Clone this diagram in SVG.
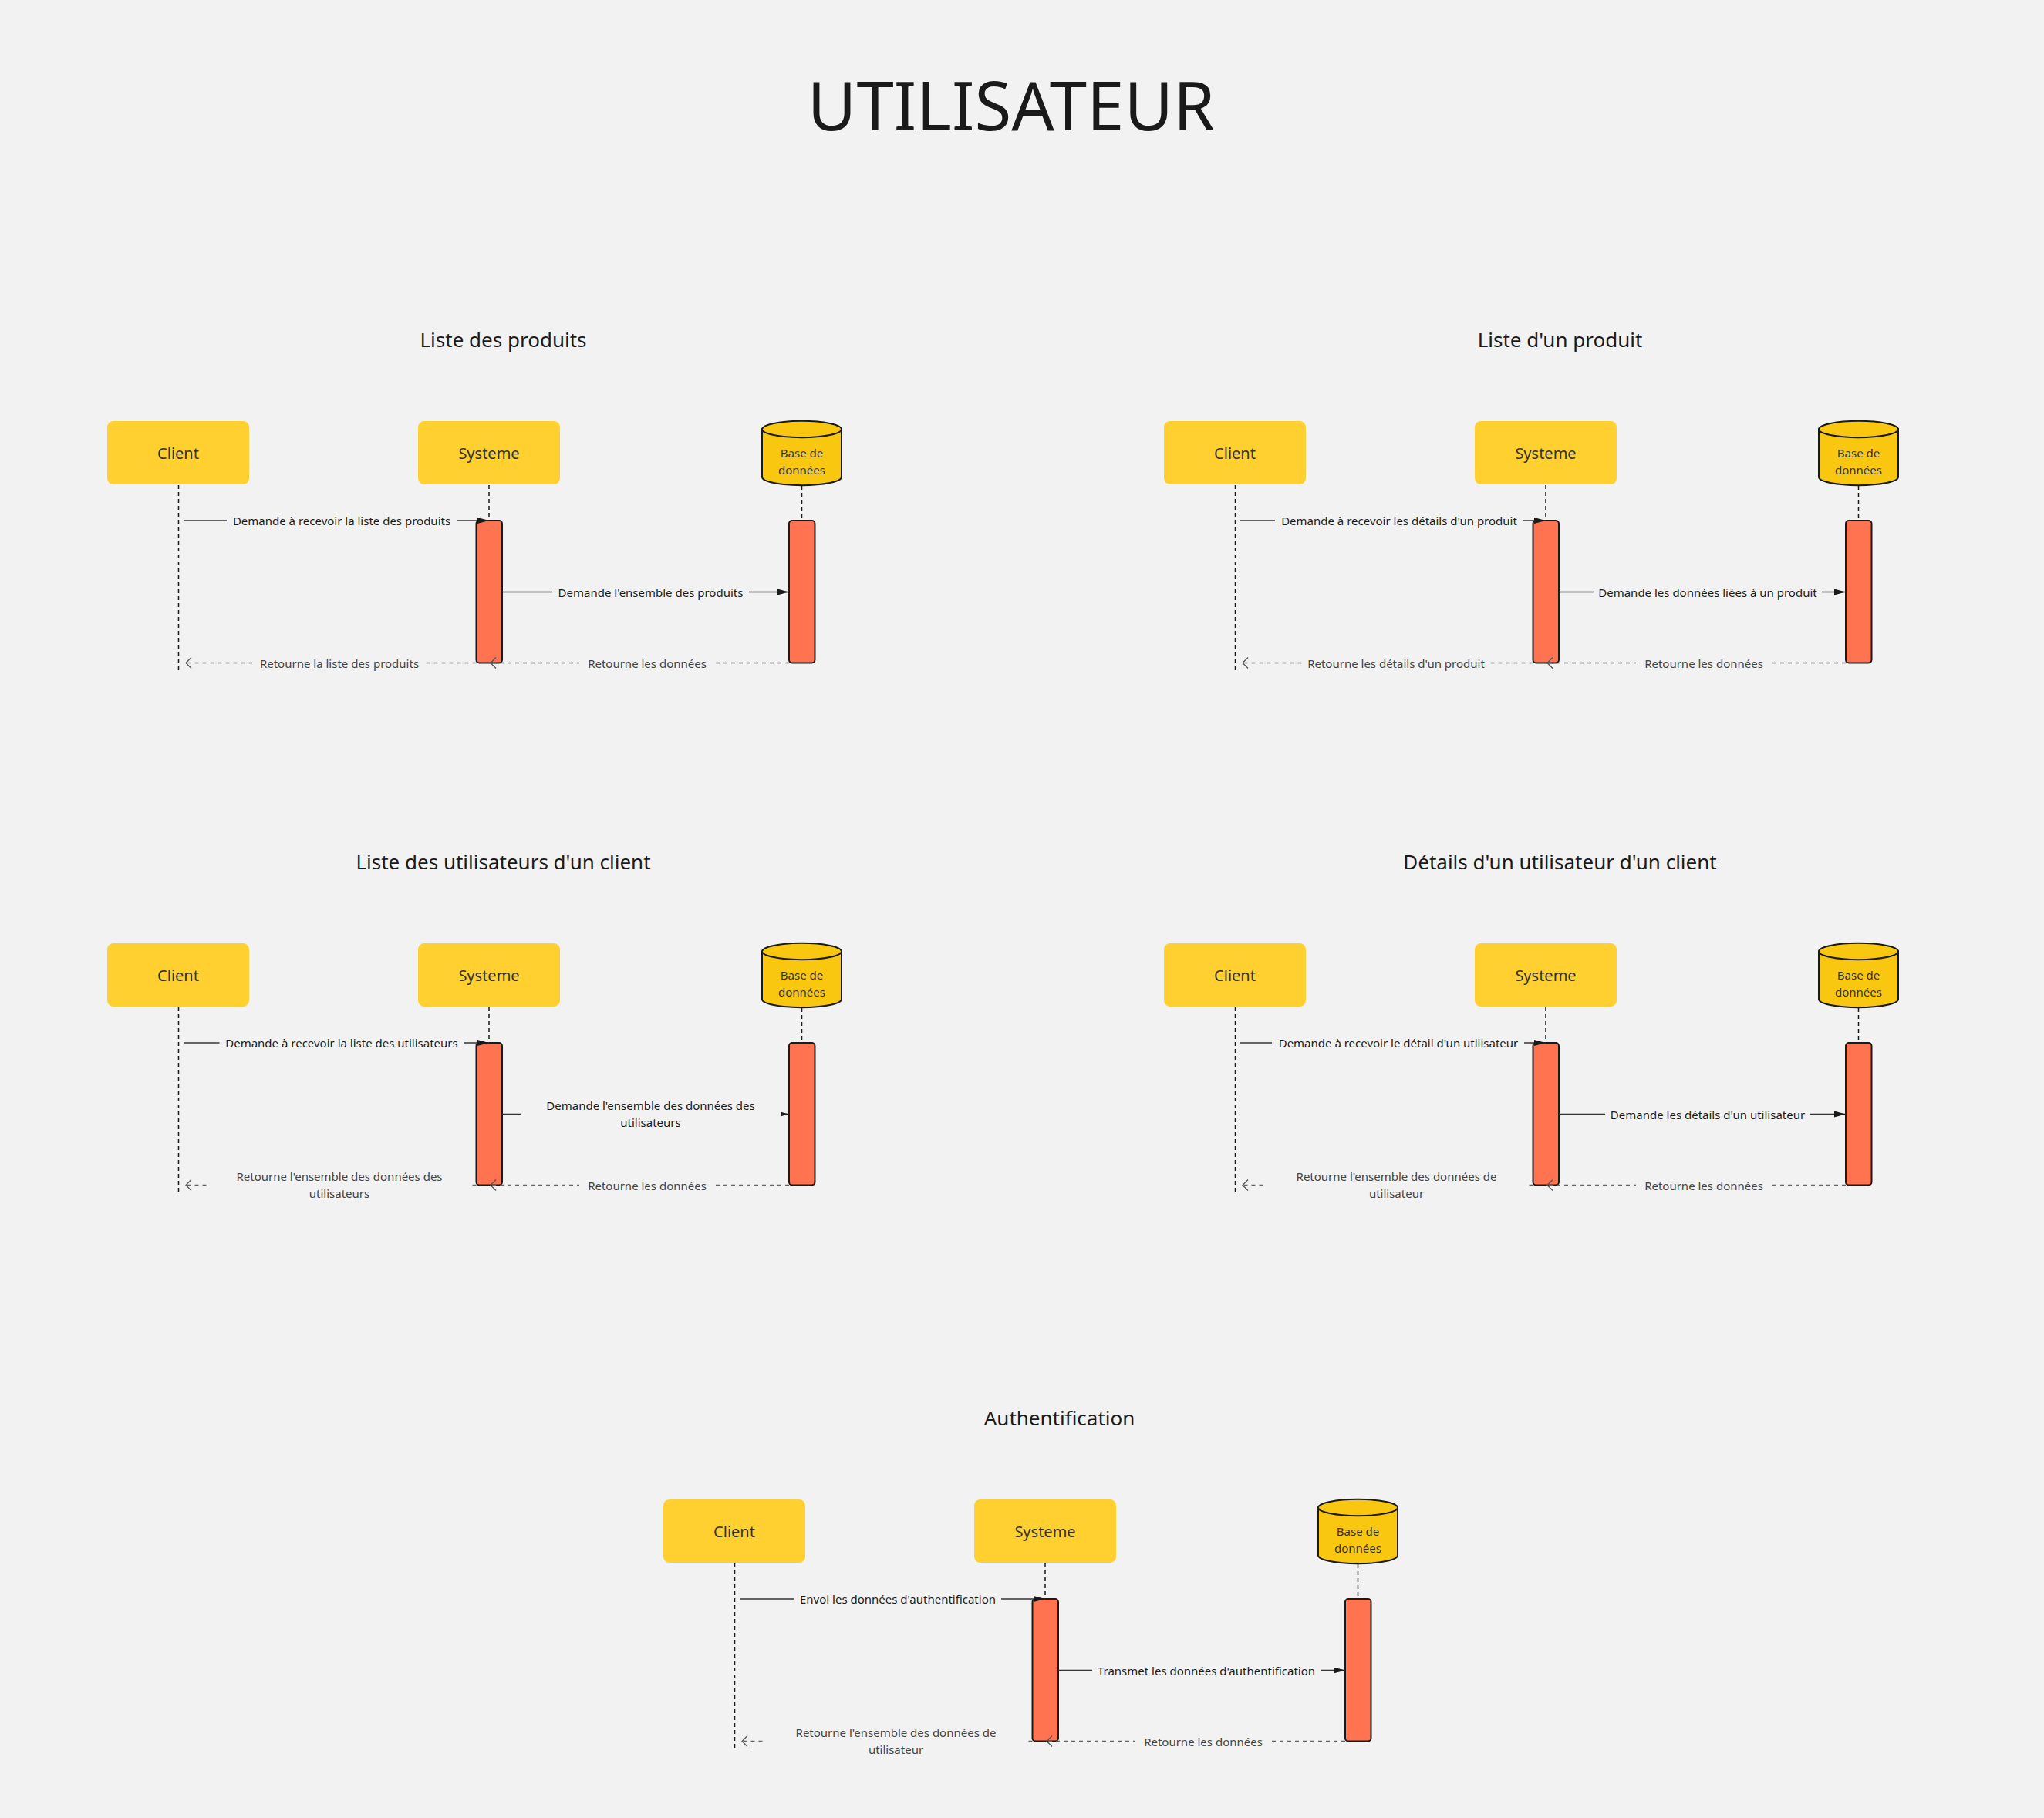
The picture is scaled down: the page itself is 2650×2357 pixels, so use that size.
<svg xmlns="http://www.w3.org/2000/svg" width="2650" height="2357" viewBox="0 0 2650 2357">
<defs>
<style>
text{font-family:"Noto Sans","Open Sans","DejaVu Sans",sans-serif;text-anchor:middle}
.main{font-size:87px;fill:#1a1a1a}
.ptitle{font-size:26px;fill:#1a1a1a}
.box{fill:#ffd02f}
.lbl{font-size:20px;fill:#333333}
.db{fill:#fac710;stroke:#1a1a1a;stroke-width:2}
.dbl{font-size:15px;fill:#333333}
.bar{fill:#ff7350;stroke:#1a1a1a;stroke-width:2}
.life{stroke:#1a1a1a;stroke-width:1.5;stroke-dasharray:5 4;fill:none}
.msg{stroke:#333333;stroke-width:1.5;fill:none;marker-end:url(#arrFill)}
.ret{stroke:#666666;stroke-width:1.3;stroke-dasharray:5 5;fill:none;marker-end:url(#arrOpen)}
.lbg{fill:#f2f2f2}
.mt{font-size:15px;fill:#1a1a1a}
.rt{font-size:15px;fill:#444444}
</style>
<marker id="arrFill" viewBox="0 0 15 8" refX="15" refY="4" markerWidth="15" markerHeight="8" markerUnits="userSpaceOnUse" orient="auto">
<path d="M0,0 L15,4 L0,8 Z" fill="#1a1a1a"/>
</marker>
<marker id="arrOpen" viewBox="-1 -1 10 16" refX="7" refY="7" markerWidth="10" markerHeight="16" markerUnits="userSpaceOnUse" orient="auto">
<path d="M0,0 L7,7 L0,14" fill="none" stroke="#555555" stroke-width="1.3"/>
</marker>
</defs>
<rect x="0" y="0" width="2650" height="2357" fill="#f2f2f2"/>
<text class="main" x="1311" y="169">UTILISATEUR</text>

<!-- Panel 1 -->
<g id="panel-liste-produits">
<text class="ptitle" x="652.5" y="450">Liste des produits</text>
<g id="p1-client"><rect class="box" x="139" y="546" width="184" height="82" rx="8"/><text class="lbl" x="231" y="595">Client</text><line class="life" x1="231.5" y1="629" x2="231.5" y2="870"/></g>
<g id="p1-systeme"><rect class="box" x="542" y="546" width="184" height="82" rx="8"/><text class="lbl" x="634" y="595">Systeme</text><line class="life" x1="634" y1="629" x2="634" y2="675"/><rect class="bar" x="617.5" y="675" width="33.5" height="184.5" rx="4"/></g>
<g id="p1-db"><path class="db" d="M988,556.5 V618.5 A51.5,10.7 0 0 0 1091,618.5 V556.5 Z"/><ellipse class="db" cx="1039.5" cy="556.5" rx="51.5" ry="10.7"/><text class="dbl" x="1039.5" y="593">Base de</text><text class="dbl" x="1039.5" y="615">données</text><line class="life" x1="1039.5" y1="630" x2="1039.5" y2="675"/><rect class="bar" x="1023" y="675" width="33.5" height="184.5" rx="4"/></g>
<g id="p1-connectors">
<line class="msg" x1="238" y1="675" x2="634" y2="675"/>
<line class="msg" x1="651" y1="767.5" x2="1023" y2="767.5"/>
<line class="ret" x1="1023" y1="859.5" x2="636" y2="859.5"/>
<line class="ret" x1="617.5" y1="859.5" x2="241" y2="859.5"/>
<rect class="lbg" x="294" y="663" width="298" height="24"/><text class="mt" x="443" y="681">Demande à recevoir la liste des produits</text>
<rect class="lbg" x="716" y="755.5" width="255" height="24"/><text class="mt" x="843.5" y="773.5">Demande l'ensemble des produits</text>
<rect class="lbg" x="751" y="847.5" width="176" height="24"/><text class="rt" x="839" y="865.5">Retourne les données</text>
<rect class="lbg" x="327" y="847.5" width="223" height="24"/><text class="rt" x="440" y="865.5">Retourne la liste des produits</text>
</g>
</g>

<!-- Panel 2 -->
<g id="panel-liste-produit" transform="translate(1370,0)">
<text class="ptitle" x="652.5" y="450">Liste d'un produit</text>
<g id="p2-client"><rect class="box" x="139" y="546" width="184" height="82" rx="8"/><text class="lbl" x="231" y="595">Client</text><line class="life" x1="231.5" y1="629" x2="231.5" y2="870"/></g>
<g id="p2-systeme"><rect class="box" x="542" y="546" width="184" height="82" rx="8"/><text class="lbl" x="634" y="595">Systeme</text><line class="life" x1="634" y1="629" x2="634" y2="675"/><rect class="bar" x="617.5" y="675" width="33.5" height="184.5" rx="4"/></g>
<g id="p2-db"><path class="db" d="M988,556.5 V618.5 A51.5,10.7 0 0 0 1091,618.5 V556.5 Z"/><ellipse class="db" cx="1039.5" cy="556.5" rx="51.5" ry="10.7"/><text class="dbl" x="1039.5" y="593">Base de</text><text class="dbl" x="1039.5" y="615">données</text><line class="life" x1="1039.5" y1="630" x2="1039.5" y2="675"/><rect class="bar" x="1023" y="675" width="33.5" height="184.5" rx="4"/></g>
<g id="p2-connectors">
<line class="msg" x1="238" y1="675" x2="634" y2="675"/>
<line class="msg" x1="651" y1="767.5" x2="1023" y2="767.5"/>
<line class="ret" x1="1023" y1="859.5" x2="636" y2="859.5"/>
<line class="ret" x1="617.5" y1="859.5" x2="241" y2="859.5"/>
<rect class="lbg" x="283" y="663" width="322" height="24"/><text class="mt" x="444" y="681">Demande à recevoir les détails d'un produit</text>
<rect class="lbg" x="696" y="755.5" width="296" height="24"/><text class="mt" x="844" y="773.5">Demande les données liées à un produit</text>
<rect class="lbg" x="751" y="847.5" width="176" height="24"/><text class="rt" x="839" y="865.5">Retourne les données</text>
<rect class="lbg" x="318" y="847.5" width="243" height="24"/><text class="rt" x="440" y="865.5">Retourne les détails d'un produit</text>
</g>
</g>

<!-- Panel 3 -->
<g id="panel-liste-utilisateurs" transform="translate(0,677)">
<text class="ptitle" x="652.5" y="450">Liste des utilisateurs d'un client</text>
<g id="p3-client"><rect class="box" x="139" y="546" width="184" height="82" rx="8"/><text class="lbl" x="231" y="595">Client</text><line class="life" x1="231.5" y1="629" x2="231.5" y2="870"/></g>
<g id="p3-systeme"><rect class="box" x="542" y="546" width="184" height="82" rx="8"/><text class="lbl" x="634" y="595">Systeme</text><line class="life" x1="634" y1="629" x2="634" y2="675"/><rect class="bar" x="617.5" y="675" width="33.5" height="184.5" rx="4"/></g>
<g id="p3-db"><path class="db" d="M988,556.5 V618.5 A51.5,10.7 0 0 0 1091,618.5 V556.5 Z"/><ellipse class="db" cx="1039.5" cy="556.5" rx="51.5" ry="10.7"/><text class="dbl" x="1039.5" y="593">Base de</text><text class="dbl" x="1039.5" y="615">données</text><line class="life" x1="1039.5" y1="630" x2="1039.5" y2="675"/><rect class="bar" x="1023" y="675" width="33.5" height="184.5" rx="4"/></g>
<g id="p3-connectors">
<line class="msg" x1="238" y1="675" x2="634" y2="675"/>
<line class="msg" x1="651" y1="767.5" x2="1023" y2="767.5"/>
<line class="ret" x1="1023" y1="859.5" x2="636" y2="859.5"/>
<line class="ret" x1="617.5" y1="859.5" x2="241" y2="859.5"/>
<rect class="lbg" x="284.5" y="663" width="317" height="24"/><text class="mt" x="443" y="681">Demande à recevoir la liste des utilisateurs</text>
<rect class="lbg" x="675" y="755.5" width="337" height="24"/><text class="mt" x="843.5" y="762">Demande l'ensemble des données des</text><text class="mt" x="843.5" y="784">utilisateurs</text>
<rect class="lbg" x="751" y="847.5" width="176" height="24"/><text class="rt" x="839" y="865.5">Retourne les données</text>
<rect class="lbg" x="268" y="847.5" width="341" height="24"/><text class="rt" x="440" y="854">Retourne l'ensemble des données des</text><text class="rt" x="440" y="876">utilisateurs</text>
</g>
</g>

<!-- Panel 4 -->
<g id="panel-details-utilisateur" transform="translate(1370,677)">
<text class="ptitle" x="652.5" y="450">Détails d'un utilisateur d'un client</text>
<g id="p4-client"><rect class="box" x="139" y="546" width="184" height="82" rx="8"/><text class="lbl" x="231" y="595">Client</text><line class="life" x1="231.5" y1="629" x2="231.5" y2="870"/></g>
<g id="p4-systeme"><rect class="box" x="542" y="546" width="184" height="82" rx="8"/><text class="lbl" x="634" y="595">Systeme</text><line class="life" x1="634" y1="629" x2="634" y2="675"/><rect class="bar" x="617.5" y="675" width="33.5" height="184.5" rx="4"/></g>
<g id="p4-db"><path class="db" d="M988,556.5 V618.5 A51.5,10.7 0 0 0 1091,618.5 V556.5 Z"/><ellipse class="db" cx="1039.5" cy="556.5" rx="51.5" ry="10.7"/><text class="dbl" x="1039.5" y="593">Base de</text><text class="dbl" x="1039.5" y="615">données</text><line class="life" x1="1039.5" y1="630" x2="1039.5" y2="675"/><rect class="bar" x="1023" y="675" width="33.5" height="184.5" rx="4"/></g>
<g id="p4-connectors">
<line class="msg" x1="238" y1="675" x2="634" y2="675"/>
<line class="msg" x1="651" y1="767.5" x2="1023" y2="767.5"/>
<line class="ret" x1="1023" y1="859.5" x2="636" y2="859.5"/>
<line class="ret" x1="617.5" y1="859.5" x2="241" y2="859.5"/>
<rect class="lbg" x="279" y="663" width="327" height="24"/><text class="mt" x="443" y="681">Demande à recevoir le détail d'un utilisateur</text>
<rect class="lbg" x="711" y="755.5" width="265.5" height="24"/><text class="mt" x="844" y="773.5">Demande les détails d'un utilisateur</text>
<rect class="lbg" x="751" y="847.5" width="176" height="24"/><text class="rt" x="839" y="865.5">Retourne les données</text>
<rect class="lbg" x="268" y="847.5" width="341" height="24"/><text class="rt" x="440.5" y="854">Retourne l'ensemble des données de</text><text class="rt" x="440.5" y="876">utilisateur</text>
</g>
</g>

<!-- Panel 5 -->
<g id="panel-authentification" transform="translate(721,1398)">
<text class="ptitle" x="652.5" y="450">Authentification</text>
<g id="p5-client"><rect class="box" x="139" y="546" width="184" height="82" rx="8"/><text class="lbl" x="231" y="595">Client</text><line class="life" x1="231.5" y1="629" x2="231.5" y2="870"/></g>
<g id="p5-systeme"><rect class="box" x="542" y="546" width="184" height="82" rx="8"/><text class="lbl" x="634" y="595">Systeme</text><line class="life" x1="634" y1="629" x2="634" y2="675"/><rect class="bar" x="617.5" y="675" width="33.5" height="184.5" rx="4"/></g>
<g id="p5-db"><path class="db" d="M988,556.5 V618.5 A51.5,10.7 0 0 0 1091,618.5 V556.5 Z"/><ellipse class="db" cx="1039.5" cy="556.5" rx="51.5" ry="10.7"/><text class="dbl" x="1039.5" y="593">Base de</text><text class="dbl" x="1039.5" y="615">données</text><line class="life" x1="1039.5" y1="630" x2="1039.5" y2="675"/><rect class="bar" x="1023" y="675" width="33.5" height="184.5" rx="4"/></g>
<g id="p5-connectors">
<line class="msg" x1="238" y1="675" x2="634" y2="675"/>
<line class="msg" x1="651" y1="767.5" x2="1023" y2="767.5"/>
<line class="ret" x1="1023" y1="859.5" x2="636" y2="859.5"/>
<line class="ret" x1="617.5" y1="859.5" x2="241" y2="859.5"/>
<rect class="lbg" x="309" y="663" width="268" height="24"/><text class="mt" x="443" y="681">Envoi les données d'authentification</text>
<rect class="lbg" x="695" y="755.5" width="296" height="24"/><text class="mt" x="843" y="773.5">Transmet les données d'authentification</text>
<rect class="lbg" x="751" y="847.5" width="176" height="24"/><text class="rt" x="839" y="865.5">Retourne les données</text>
<rect class="lbg" x="268" y="847.5" width="341" height="24"/><text class="rt" x="440.5" y="854">Retourne l'ensemble des données de</text><text class="rt" x="440.5" y="876">utilisateur</text>
</g>
</g>
</svg>
